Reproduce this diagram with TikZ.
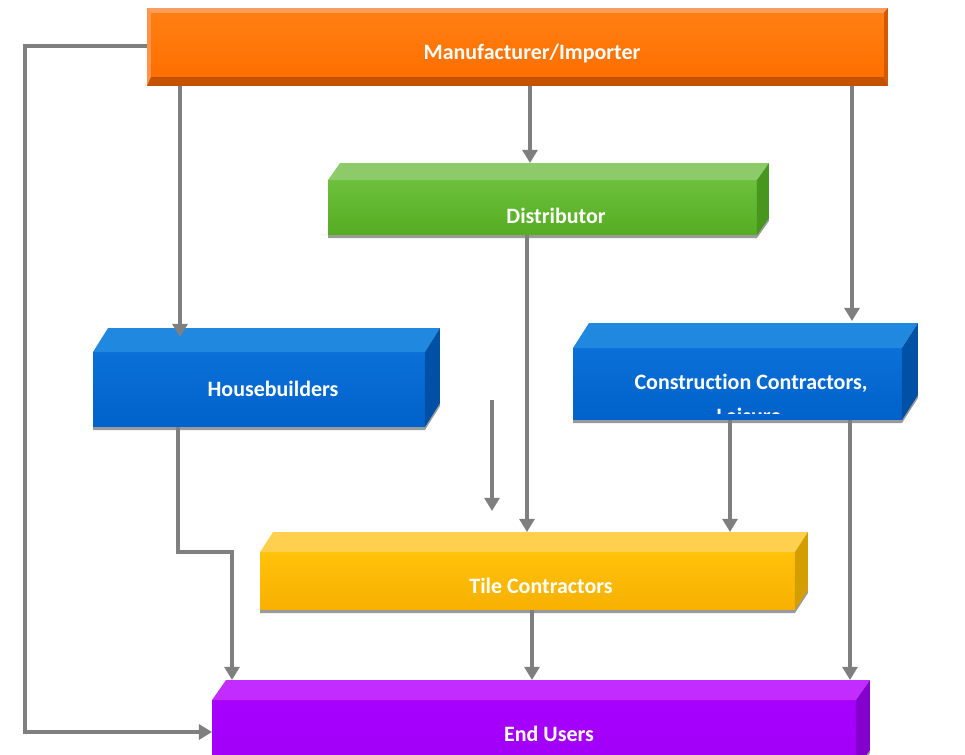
\documentclass[tikz,border=0pt]{standalone}
\usepackage{fontspec}
\setmainfont{Carlito}[Ligatures=CommonOff]
\usetikzlibrary{arrows.meta,calc}
\definecolor{arrowgray}{HTML}{7F7F7F}
\definecolor{shadowgray}{HTML}{9A9A9A}
\definecolor{orA}{HTML}{FF7F12}
\definecolor{orB}{HTML}{FF6E00}
\definecolor{orTop}{HTML}{FF9E5C}
\definecolor{orBot}{HTML}{C45200}
\definecolor{orRight}{HTML}{D45A00}
\definecolor{grA}{HTML}{6CC03C}
\definecolor{grB}{HTML}{55AD22}
\definecolor{grTop}{HTML}{8DCB6A}
\definecolor{grSide}{HTML}{47961E}
\definecolor{blA}{HTML}{0A70D8}
\definecolor{blB}{HTML}{0062CA}
\definecolor{blTop}{HTML}{2088DE}
\definecolor{blSide}{HTML}{0050A6}
\definecolor{yeA}{HTML}{FFC20A}
\definecolor{yeB}{HTML}{F7B000}
\definecolor{yeTop}{HTML}{FFD04E}
\definecolor{yeSide}{HTML}{D49E00}
\definecolor{puA}{HTML}{A700FF}
\definecolor{puB}{HTML}{A000F6}
\definecolor{puTop}{HTML}{C22CFF}
\definecolor{puSide}{HTML}{8400CC}
\newcommand\mycube[5]{%
  \fill[shadowgray] ($(#1.south west)+(0,3)$) -- ($(#1.south east)+(0,3)$) -- ($(#1.south east)+(#2,#3)+(0,3)$) -- ($(#1.north east)+(#2,#3)$) -- (#1.south east) -- (#1.south west) -- cycle;
  \fill[#4] (#1.north west) -- ++(#2,#3) -- ($(#1.north east)+(#2,#3)$) -- (#1.north east) -- cycle;
  \fill[#5] (#1.north east) -- ++(#2,#3) -- ($(#1.south east)+(#2,#3)$) -- (#1.south east) -- cycle;
}
\begin{document}
\begin{tikzpicture}[x=0.02cm,y=-0.02cm,
  box/.style={rectangle, draw=none, inner sep=0pt, outer sep=0pt},
  lbl/.style={text=white, inner sep=0pt, font=\fontsize{12.5}{15}\selectfont\bfseries},
  arr/.style={draw=arrowgray, line width=2.4pt, -{Triangle[width=8.5pt,length=7.5pt]}}]
\useasboundingbox (0,0) rectangle (965,755);
\clip (0,0) rectangle (965,755);

% Manufacturer/Importer (bevelled box)
\node[box, fill=orB, minimum width=14.82cm, minimum height=1.56cm] (man) at (517.5,47) {};
\fill[orTop] (man.north west) -- (man.north east) -- ($(man.north east)+(-4,5)$) -- ($(man.north west)+(4,5)$) -- cycle;
\fill[orTop!80!orB] (man.north west) -- ($(man.north west)+(4,5)$) -- ($(man.south west)+(4,-9)$) -- (man.south west) -- cycle;
\fill[orBot] (man.south west) -- (man.south east) -- ($(man.south east)+(-4,-9)$) -- ($(man.south west)+(4,-9)$) -- cycle;
\fill[orRight] (man.north east) -- (man.south east) -- ($(man.south east)+(-4,-9)$) -- ($(man.north east)+(-4,5)$) -- cycle;
\shade[top color=orA, bottom color=orB] ($(man.north west)+(4,5)$) rectangle ($(man.south east)+(-4,-9)$);
\node[lbl] (manl) at (532,54) {Manufacturer/Importer};

% Distributor
\node[box, top color=grA, bottom color=grB, minimum width=8.58cm, minimum height=1.1cm] (dist) at (542.5,207.5) {};
\mycube{dist}{12}{-17}{grTop}{grSide}
\node[lbl] (distl) at (556,216) {Distributor};

% Housebuilders
\node[box, top color=blA, bottom color=blB, minimum width=6.64cm, minimum height=1.5cm] (house) at (259,389.5) {};
\mycube{house}{15}{-24}{blTop}{blSide}
\node[lbl] (housel) at (273,389) {Housebuilders};

% Construction Contractors
\node[box, top color=blA, bottom color=blB, minimum width=6.58cm, minimum height=1.44cm] (cons) at (737.5,384) {};
\mycube{cons}{16}{-25}{blTop}{blSide}
\node[lbl] (consl) at (751,383) {Construction Contractors,};
\begin{scope}
  \clip (cons.north west) rectangle ($(cons.south east)+(0,-7)$);
  \node[lbl, anchor=north] (consl2) at (749,407.5) {Leisure};
\end{scope}

% Tile Contractors
\node[box, top color=yeA, bottom color=yeB, minimum width=10.7cm, minimum height=1.16cm] (tile) at (527.5,581) {};
\mycube{tile}{13}{-20}{yeTop}{yeSide}
\node[lbl] (tilel) at (541,586) {Tile Contractors};

% End Users
\node[box, top color=puA, bottom color=puB, minimum width=12.88cm, minimum height=1.4cm] (end) at (534,735) {};
\mycube{end}{14}{-20}{puTop}{puSide}
\node[lbl] (endl) at (549,734) {End Users};

% connector coordinates
\coordinate (xa) at (180,0);
\coordinate (xb) at (530,0);
\coordinate (xc) at (852,0);
\coordinate (xd) at (527,0);
\coordinate (xe) at (730,0);
\coordinate (xf) at (850,0);
\coordinate (xg) at (532,0);
\coordinate (lp1) at (25,46);
\coordinate (lp2) at (25,732);
\coordinate (hb1) at (178,552);
\coordinate (hb2) at (232,552);
\coordinate (s1) at (492,400);
\coordinate (s2) at (492,511);

% connectors
\draw[arr] (man.south -| xa) -- ($(house.north -| xa)+(0,-15)$);
\draw[arr] (man.south -| xb) -- ($(dist.north -| xb)+(0,-17)$);
\draw[arr] (man.south -| xc) -- ($(cons.north -| xc)+(0,-27)$);
\draw[arr] (man.west |- lp1) -- (lp1) -- (lp2) -- (end.west |- lp2);
\draw[arr] (house.south -| hb1) -- (hb1) -- (hb2) -- ($(end.north -| hb2)+(0,-20)$);
\draw[arr] (s1) -- (s2);
\draw[arr] (dist.south -| xd) -- ($(tile.north -| xd)+(0,-20)$);
\draw[arr] (cons.south -| xe) -- ($(tile.north -| xe)+(0,-20)$);
\draw[arr] (cons.south -| xf) -- ($(end.north -| xf)+(0,-20)$);
\draw[arr] (tile.south -| xg) -- ($(end.north -| xg)+(0,-20)$);
\end{tikzpicture}
\end{document}
